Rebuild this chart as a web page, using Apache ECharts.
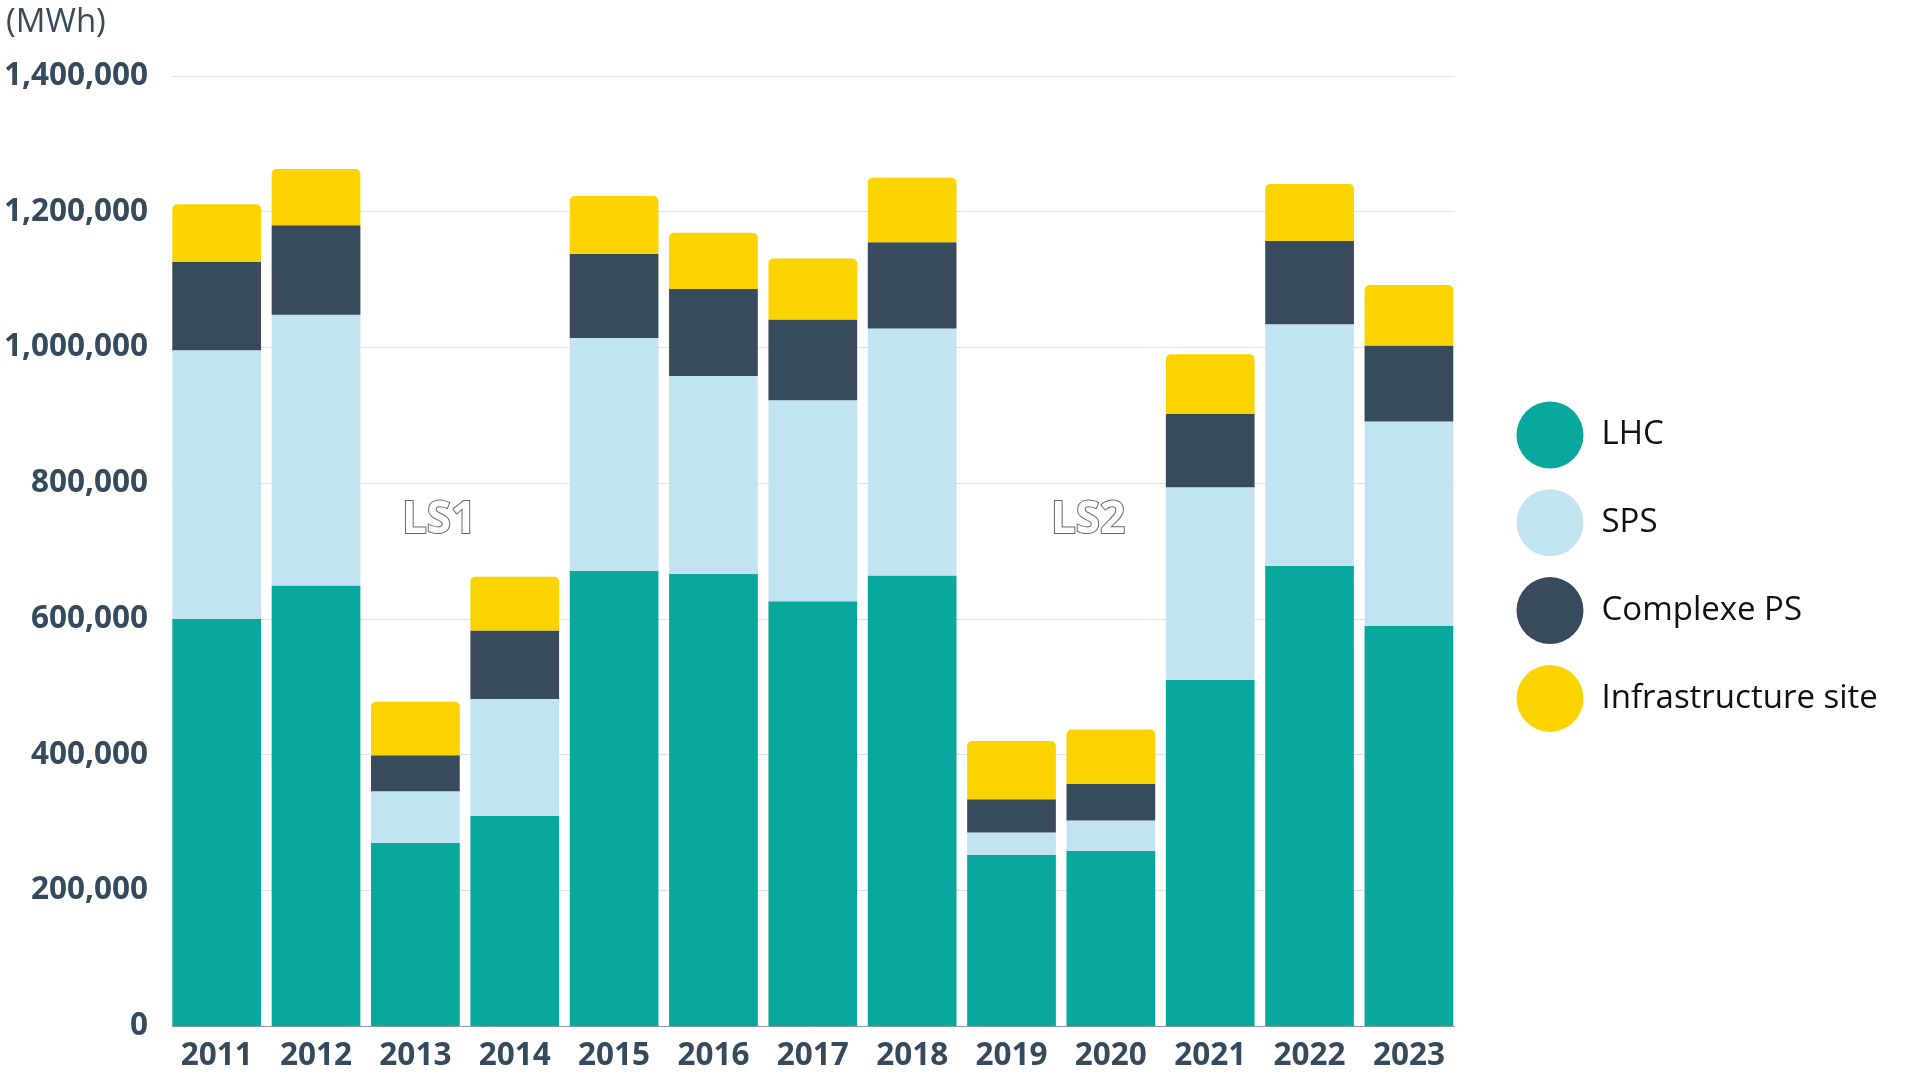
<!DOCTYPE html>
<html><head><meta charset="utf-8">
<script src="https://cdn.jsdelivr.net/npm/echarts@6/dist/echarts.min.js"></script>
<style>html,body{margin:0;padding:0;background:#fff}#c{width:1920px;height:1080px}</style>
</head><body><div id="c"></div>
<script>
const years = ['2011','2012','2013','2014','2015','2016','2017','2018','2019','2020','2021','2022','2023'];
const lhc = [600000,649000,270000,310000,671000,666000,626000,664000,252000,258000,510000,678000,590000];
const sps = [396000,399000,76000,172000,343000,292000,296000,364000,33000,45000,284000,356000,301000];
const complexePS = [130000,132000,53000,101000,124000,128000,119000,127000,49000,54000,108000,123000,112000];
const infrastructure = [85000,83000,79000,79000,85000,83000,90000,95000,86000,80000,88000,84000,89000];
const seriesNames = ['LHC','SPS','Complexe PS','Infrastructure site'];
const colors = ['#09a89e','#c2e3f0','#374b5c','#fbd400'];
const yTicks = {min:0,max:1400000,interval:200000};
const unitLabel = '(MWh)';
const annotations = [{text:'LS1',x:439,y:520},{text:'LS2',x:1088,y:520}];

const chart = echarts.init(document.getElementById('c'));
const font = '"Open Sans", sans-serif';
const dataSets = [lhc, sps, complexePS, infrastructure];
const labelColor = '#354a5c';
chart.setOption({
  animation:false,
  color: colors,
  textStyle:{fontFamily:font},
  grid:[
    {left:172,right:465.5,top:76,bottom:54,containLabel:false},
    {left:167,right:461.4,top:76,bottom:54,containLabel:false}
  ],
  legend:{
    orient:'vertical', left:1516.5, top:401.5, padding:0,
    icon:'circle', itemWidth:67, itemHeight:67, itemGap:20.8,
    data: seriesNames,
    textStyle:{fontSize:33,color:'#111',fontFamily:font,padding:[0,0,0,13]}
  },
  xAxis:[
    {gridIndex:0,type:'category',data:years,
     axisTick:{show:false},axisLabel:{show:false},
     axisLine:{lineStyle:{color:'#8a9aa8',width:1}}},
    {gridIndex:1,type:'category',data:years,
     axisTick:{show:false},axisLine:{show:false},
     axisLabel:{fontSize:31.5,fontWeight:'bold',color:labelColor,margin:14,fontFamily:font,interval:0}}
  ],
  yAxis:[
    {gridIndex:0,type:'value',min:yTicks.min,max:yTicks.max,interval:yTicks.interval,
     axisLine:{show:false},axisTick:{show:false},
     splitLine:{lineStyle:{color:'#dde1e4',width:1}},
     axisLabel:{fontSize:31.5,fontWeight:'bold',color:labelColor,margin:24,fontFamily:font,
       formatter:v=>v.toLocaleString('en-US')}},
    {gridIndex:1,type:'value',min:yTicks.min,max:yTicks.max,interval:yTicks.interval,
     show:false,splitLine:{show:false}}
  ],
  graphic:[
    {type:'text',left:6,top:6,style:{text:unitLabel,fontSize:33,fill:labelColor,fontFamily:font}},
    ...annotations.map(a=>({type:'text',x:a.x,y:a.y,style:{text:a.text,fontSize:44,fontWeight:'bold',fill:'#fff',stroke:'#666',lineWidth:2,align:'center',verticalAlign:'middle',fontFamily:font}}))
  ],
  series: seriesNames.map((n,i)=>({
    name:n, type:'bar', stack:'total', data:dataSets[i],
    xAxisIndex:1, yAxisIndex:1,
    barCategoryGap:'10.7%',
    itemStyle: i===3 ? {borderRadius:[5,5,0,0]} : {}
  }))
});
</script></body></html>
